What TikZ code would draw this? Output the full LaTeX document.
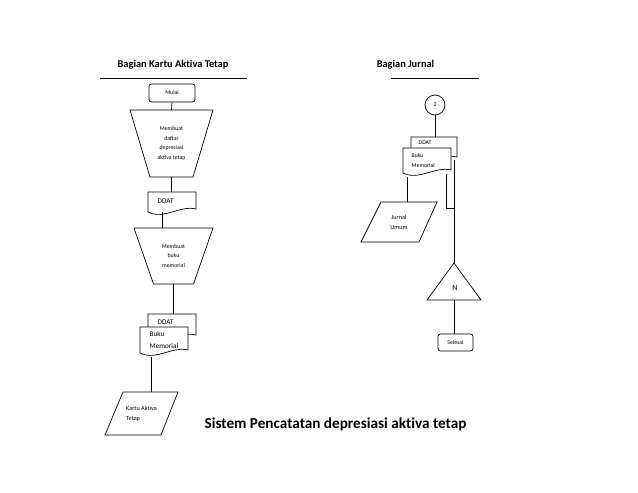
\documentclass[tikz,border=0pt]{standalone}
\usepackage{fontspec}
\setmainfont{Carlito}[Ligatures=NoCommon]
\newcommand\docshape[1]{\draw[fill=white] (#1.north west) -- (#1.north east) -- ([yshift=3pt]#1.south east) .. controls ([xshift=-16pt,yshift=7pt]#1.south east) and ([xshift=16pt,yshift=-8pt]#1.south west) .. (#1.south west) -- cycle;}
\begin{document}
\begin{tikzpicture}[x=1pt,y=-1pt,line width=0.7pt,
  box/.style={inner sep=0pt,outer sep=0pt},
  tiny/.style={font=\fontsize{5.8}{9.5}\selectfont},
  small/.style={font=\fontsize{6.2}{10}\selectfont},
  med/.style={font=\fontsize{7.2}{12}\selectfont},
  head/.style={font=\fontsize{10.4}{12}\selectfont\bfseries},
  term/.style={draw,rounded corners=2.5pt,inner sep=0pt}]
\useasboundingbox (0,0) rectangle (638,493);
% headings
\node[head] (h1) at (173,65) {Bagian Kartu Aktiva Tetap};
\node[head] (h2) at (405.5,65) {Bagian Jurnal};
\draw (100,78) -- (247,78);
\draw (391,78) -- (479,78);
% left column
\node[term,tiny,minimum width=46pt,minimum height=18pt] (mulai) at (172,93) {Mulai};
\node[box,tiny,align=center,minimum width=83pt,minimum height=67pt] (t1) at (171.5,143.5) {Membuat\\daftar\\depresiasi\\aktiva tetap};
\draw ([xshift=0pt]t1.north west) -- (t1.north east) -- ([xshift=-20pt]t1.south east) -- ([xshift=20pt]t1.south west) -- cycle;
\node[box,minimum width=48pt,minimum height=20pt] (d1) at (172,202) {};
\docshape{d1}
\node[med,anchor=west] (d1t) at ([xshift=6pt,yshift=-9pt]d1.north west) {DDAT};
\node[box,tiny,align=center,minimum width=79pt,minimum height=56pt] (t2) at (173.5,256) {Membuat\\buku\\memorial};
\draw (t2.north west) -- (t2.north east) -- ([xshift=-19.5pt]t2.south east) -- ([xshift=19.5pt]t2.south west) -- cycle;
\node[box,minimum width=48pt,minimum height=24pt] (lb) at (172,326) {};
\docshape{lb}
\node[med,anchor=west] (lbt) at ([xshift=6pt,yshift=-8pt]lb.north west) {DDAT};
\node[box,minimum width=48pt,minimum height=26pt] (lf) at (164,340) {};
\docshape{lf}
\node[med,anchor=west,align=left] (lft) at ([xshift=6pt,yshift=-13pt]lf.north west) {Buku\\Memorial};
\node[box,small,align=left,minimum width=73pt,minimum height=43pt] (kat) at (141.5,413.5) {Kartu Aktiva\\Tetap};
\draw ([xshift=18pt]kat.north west) -- (kat.north east) -- ([xshift=-17pt]kat.south east) -- (kat.south west) -- cycle;
\draw (mulai.south) -- (t1.north);
\draw (t1.south) -- (t1.south |- d1.north);
\draw ([xshift=-10pt]d1.south) -- ([xshift=-10pt]d1.south |- t2.north);
\draw (t2.south) -- (t2.south |- lb.north);
\draw ([xshift=11pt,yshift=-4pt]lf.south west) coordinate (q1) -- (q1 |- kat.north);
% right column
\node[draw,circle,minimum size=20pt,inner sep=0pt,tiny] (c2) at (435,105) {2};
\node[box,minimum width=46pt,minimum height=23pt] (rb) at (434,148.5) {};
\docshape{rb}
\node[tiny,anchor=west] (rbt) at ([xshift=4pt,yshift=-6pt]rb.north west) {DDAT};
\node[box,minimum width=48pt,minimum height=25pt] (rf) at (427,160.5) {};
\docshape{rf}
\node[tiny,anchor=west,align=left] (rft) at ([xshift=5pt,yshift=-12.5pt]rf.north west) {Buku\\Memorial};
\node[box,small,align=center,minimum width=76pt,minimum height=40pt] (ju) at (399,222) {Jurnal\\Umum};
\draw ([xshift=20pt]ju.north west) -- (ju.north east) -- ([xshift=-18pt]ju.south east) -- (ju.south west) -- cycle;
\node[box,font=\fontsize{8}{10}\selectfont] (tri) at (455,288) {N};
\coordinate (apex) at ([xshift=-1pt,yshift=25pt]tri.center);
\coordinate (base) at ([xshift=-1pt,yshift=-12pt]tri.center);
\draw ([xshift=-27pt]base) -- ([xshift=27pt]base) -- (apex) -- cycle;
\node[term,tiny,minimum width=35pt,minimum height=17pt] (sel) at (455.5,342.5) {Selesai};
\draw (c2.south) -- (c2.south |- rb.north);
\draw ([xshift=4pt,yshift=-4pt]rf.south west) coordinate (q2) -- (q2 |- ju.north);
\draw ([xshift=-5pt,yshift=-1pt]rf.south east) coordinate (q3) -- ++(0,34) coordinate (q4) -- (q4 -| apex);
\draw ([xshift=-3pt]rb.south east) coordinate (q5) -- (q5 |- apex);
\draw (base) -- (base |- sel.north);
% caption
\node[font=\fontsize{15.2}{18}\selectfont\bfseries] (cap) at (335.5,424) {Sistem Pencatatan depresiasi aktiva tetap};
\end{tikzpicture}
\end{document}
